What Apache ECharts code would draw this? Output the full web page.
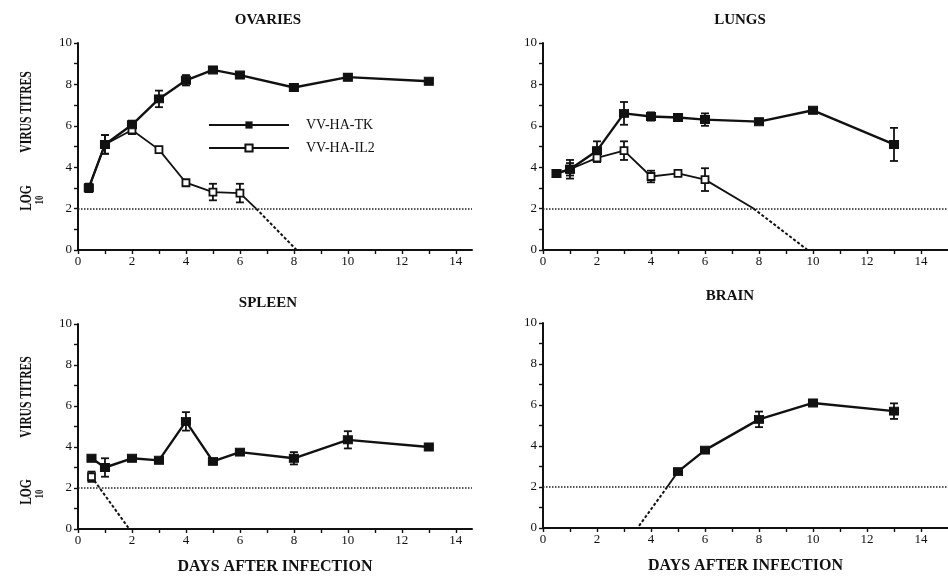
<!DOCTYPE html>
<html>
<head>
<meta charset="utf-8">
<script src="https://cdn.jsdelivr.net/npm/echarts@6/dist/echarts.min.js"></script>
<style>
  html, body { margin: 0; background: #fff; }
  #chart { width: 948px; height: 576px; }
</style>
</head>
<body>
<div id="chart"></div>
<script>
const xTickValues = [0, 1, 2, 3, 4, 5, 6, 7, 8, 9, 10, 11, 12, 13, 14]
const xLabelValues = [0, 2, 4, 6, 8, 10, 12, 14]
const yTickValues = [0, 1, 2, 3, 4, 5, 6, 7, 8, 9, 10]
const yLabelValues = [0, 2, 4, 6, 8, 10]
const detectionLimit = 2
const legendNames = ['VV-HA-TK', 'VV-HA-IL2']

// ovaries
const ovariesTKDays = [0.4, 1, 2, 3, 4, 5, 6, 8, 10, 13]
const ovariesTK = [3.0, 5.1, 6.05, 7.3, 8.2, 8.7, 8.45, 7.85, 8.35, 8.15]
const ovariesTKErr = [0.2, 0.45, 0.2, 0.4, 0.25, 0, 0, 0, 0.15, 0]
const ovariesIL2Days = [0.4, 1, 2, 3, 4, 5, 6]
const ovariesIL2 = [3.0, 5.1, 5.8, 4.85, 3.25, 2.8, 2.75]
const ovariesIL2Err = [0.2, 0.45, 0.2, 0, 0, 0.4, 0.45]
const ovariesDrop = [[6, 2.75], [6.6, 2]]
const ovariesBelow = [[6.6, 2], [8.1, 0]]

// lungs
const lungsTKDays = [0.5, 1, 2, 3, 4, 5, 6, 8, 10, 13]
const lungsTK = [3.7, 3.9, 4.8, 6.6, 6.45, 6.4, 6.3, 6.2, 6.75, 5.1]
const lungsTKErr = [0, 0.45, 0.45, 0.55, 0.2, 0.15, 0.3, 0, 0, 0.8]
const lungsIL2Days = [0.5, 1, 2, 3, 4, 5, 6]
const lungsIL2 = [3.7, 3.9, 4.45, 4.8, 3.55, 3.7, 3.4]
const lungsIL2Err = [0, 0.3, 0.2, 0.45, 0.28, 0, 0.55]
const lungsDrop = [[6, 3.4], [7.8, 2]]
const lungsBelow = [[7.8, 2], [9.8, 0]]

// spleen
const spleenTKDays = [0.5, 1, 2, 3, 4, 5, 6, 8, 10, 13]
const spleenTK = [3.45, 3.0, 3.45, 3.35, 5.25, 3.3, 3.75, 3.45, 4.35, 4.0]
const spleenTKErr = [0, 0.45, 0, 0, 0.45, 0, 0, 0.3, 0.42, 0]
const spleenIL2Days = [0.5]
const spleenIL2 = [2.55]
const spleenIL2Err = [0.25]
const spleenDrop = []
const spleenBelow = [[0.5, 2.55], [1.9, 0]]

// brain
const brainTKDays = [5, 6, 8, 10, 13]
const brainTK = [2.75, 3.8, 5.3, 6.1, 5.7]
const brainTKErr = [0, 0, 0.38, 0, 0.38]
const brainIL2Days = []
const brainIL2 = []
const brainIL2Err = []
const brainDrop = [[5, 2.75], [4.6, 2]]
const brainBelow = [[4.6, 2], [3.5, 0]]

const panels = [
  { title: 'OVARIES', grid: { left: 78, top: 43, width: 394, height: 207 }, xMax: 14.6, titleAt: [268, 20],
    tk: [ovariesTKDays, ovariesTK, ovariesTKErr], il2: [ovariesIL2Days, ovariesIL2, ovariesIL2Err],
    drop: ovariesDrop, below: ovariesBelow },
  { title: 'LUNGS', grid: { left: 543, top: 43, width: 405, height: 207 }, xMax: 15, titleAt: [740, 20],
    tk: [lungsTKDays, lungsTK, lungsTKErr], il2: [lungsIL2Days, lungsIL2, lungsIL2Err],
    drop: lungsDrop, below: lungsBelow },
  { title: 'SPLEEN', grid: { left: 78, top: 324, width: 394, height: 206 }, xMax: 14.6, titleAt: [268, 303],
    tk: [spleenTKDays, spleenTK, spleenTKErr], il2: [spleenIL2Days, spleenIL2, spleenIL2Err],
    drop: spleenDrop, below: spleenBelow },
  { title: 'BRAIN', grid: { left: 543, top: 323, width: 405, height: 205 }, xMax: 15, titleAt: [730, 296],
    tk: [brainTKDays, brainTK, brainTKErr], il2: [brainIL2Days, brainIL2, brainIL2Err],
    drop: brainDrop, below: brainBelow }
]

const ink = '#111'
const serif = '"Liberation Serif", "DejaVu Serif", serif'

function pairs(days, vals) {
  return days.map((d, i) => [d, vals[i]])
}

function errRows(days, vals, errs) {
  return days.map((d, i) => [d, vals[i], errs[i]]).filter(r => r[2] > 0)
}

function renderErr(params, api) {
  const x = api.value(0)
  const m = api.value(1)
  const e = api.value(2)
  const top = api.coord([x, m + e])
  const bot = api.coord([x, m - e])
  const w = 4
  const st = { stroke: ink, lineWidth: 1.8 }
  return {
    type: 'group',
    children: [
      { type: 'line', shape: { x1: top[0], y1: top[1], x2: bot[0], y2: bot[1] }, style: st },
      { type: 'line', shape: { x1: top[0] - w, y1: top[1], x2: top[0] + w, y2: top[1] }, style: st },
      { type: 'line', shape: { x1: bot[0] - w, y1: bot[1], x2: bot[0] + w, y2: bot[1] }, style: st }
    ]
  }
}

const grids = []
const xAxes = []
const yAxes = []
const series = []
const graphics = []

panels.forEach((p, i) => {
  grids.push(p.grid)
  xAxes.push({
    type: 'value', gridIndex: i, min: 0, max: p.xMax,
    name: i >= 2 ? 'DAYS AFTER INFECTION' : '',
    nameLocation: 'middle', nameGap: 30,
    nameTextStyle: { fontFamily: serif, fontWeight: 'bold', fontSize: 16, color: ink },
    splitLine: { show: false },
    axisLine: { lineStyle: { color: ink, width: 2 } },
    axisTick: { customValues: xTickValues, length: 4, lineStyle: { color: ink, width: 1.4 } },
    axisLabel: { customValues: xLabelValues, margin: 5, fontFamily: serif, fontSize: 13, color: ink }
  })
  yAxes.push({
    type: 'value', gridIndex: i, min: 0, max: 10, interval: 2,
    splitLine: { show: false },
    axisLine: { show: true, lineStyle: { color: ink, width: 2 } },
    axisTick: { customValues: yTickValues, length: 4, lineStyle: { color: ink, width: 1.4 } },
    axisLabel: { customValues: yLabelValues, margin: 6, fontFamily: serif, fontSize: 13, color: ink }
  })

  series.push({
    type: 'custom', xAxisIndex: i, yAxisIndex: i, renderItem: renderErr, z: 3,
    encode: { x: 0, y: 1 }, silent: true,
    data: errRows(p.il2[0], p.il2[1], p.il2[2]).concat(errRows(p.tk[0], p.tk[1], p.tk[2]))
  })
  series.push({
    type: 'line', xAxisIndex: i, yAxisIndex: i, data: p.drop, symbol: 'none', silent: true,
    lineStyle: { color: ink, width: 1.8 }, z: 2
  })
  series.push({
    type: 'line', xAxisIndex: i, yAxisIndex: i, data: p.below, symbol: 'none', silent: true,
    lineStyle: { color: ink, width: 2, type: [3, 2] }, z: 2
  })
  series.push({
    name: legendNames[1], type: 'line', xAxisIndex: i, yAxisIndex: i,
    data: pairs(p.il2[0], p.il2[1]),
    symbol: 'rect', symbolSize: 7, showAllSymbol: true,
    itemStyle: { color: '#fff', borderColor: ink, borderWidth: 1.8 },
    lineStyle: { color: ink, width: 1.8 }, z: 4
  })
  series.push({
    name: legendNames[0], type: 'line', xAxisIndex: i, yAxisIndex: i,
    data: pairs(p.tk[0], p.tk[1]),
    symbol: 'rect', symbolSize: [9, 8], showAllSymbol: true,
    itemStyle: { color: ink, borderColor: ink },
    lineStyle: { color: ink, width: 2.4 }, z: 5,
    markLine: {
      silent: true, symbol: 'none', label: { show: false },
      lineStyle: { color: '#222', width: 1.5, type: 'dotted' },
      data: [{ yAxis: detectionLimit }]
    }
  })

  graphics.push({
    type: 'text', x: p.titleAt[0], y: p.titleAt[1],
    style: { text: p.title, font: 'bold 15px ' + serif, fill: ink,
      align: 'center', verticalAlign: 'middle', textAlign: 'center', textVerticalAlign: 'middle' }
  })
})

// rotated y-axis names on the left panels
;[[112, 198], [397, 492]].forEach(([virusY, logY]) => {
  graphics.push({
    type: 'text', x: 27, y: virusY, rotation: Math.PI / 2, scaleX: 0.68,
    style: { text: 'VIRUS TITRES', font: 'bold 17px ' + serif, fill: ink,
      align: 'center', verticalAlign: 'middle', textAlign: 'center', textVerticalAlign: 'middle' }
  })
  graphics.push({
    type: 'text', x: 27, y: logY, rotation: Math.PI / 2, scaleX: 0.68,
    style: { text: 'LOG', font: 'bold 17px ' + serif, fill: ink,
      align: 'center', verticalAlign: 'middle', textAlign: 'center', textVerticalAlign: 'middle' }
  })
  graphics.push({
    type: 'text', x: 40, y: logY + 2, rotation: Math.PI / 2, scaleX: 0.68,
    style: { text: '10', font: 'bold 13px ' + serif, fill: ink,
      align: 'center', verticalAlign: 'middle', textAlign: 'center', textVerticalAlign: 'middle' }
  })
})

const chart = echarts.init(document.getElementById('chart'))
chart.setOption({
  animation: false,
  backgroundColor: '#fff',
  grid: grids,
  xAxis: xAxes,
  yAxis: yAxes,
  legend: {
    data: legendNames,
    orient: 'vertical',
    left: 203, top: 113,
    itemWidth: 80, itemHeight: 9, itemGap: 9,
    selectedMode: false,
    textStyle: { fontFamily: serif, fontSize: 14, color: ink, padding: [0, 0, 0, 12] }
  },
  graphic: graphics,
  series: series
})
</script>
</body>
</html>
